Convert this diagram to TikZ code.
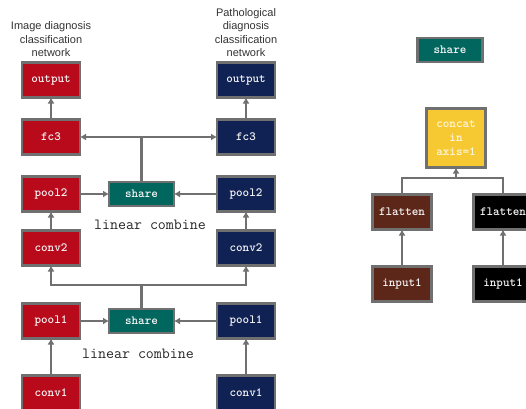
\documentclass[tikz,border=0pt]{standalone}
\usepackage{fontspec}
\setmainfont{Liberation Sans}
\usetikzlibrary{arrows.meta,positioning}
\definecolor{imgred}{RGB}{185,10,28}
\definecolor{pathnavy}{RGB}{16,34,84}
\definecolor{shareteal}{RGB}{0,102,94}
\definecolor{concatyellow}{RGB}{246,200,50}
\definecolor{flatbrown}{RGB}{92,38,24}
\definecolor{edgegray}{RGB}{112,112,112}

\begin{document}
\begin{tikzpicture}[x=1pt, y=-1pt,
    box/.style={draw=edgegray, line width=2.6pt, outer sep=0pt, fill=#1, minimum height=35pt, minimum width=58pt, inner sep=1pt, align=center, font=\ttfamily\bfseries\fontsize{12.5}{14}\selectfont, text=white!92!gray},
    sharebox/.style={box=shareteal, minimum height=24pt, minimum width=65pt},
    line/.style={line width=2.4pt, draw=edgegray},
    arr/.style={line, -{Latex[length=6pt,width=7pt]}},
    dblarr/.style={line, {Latex[length=6pt,width=7pt]}-{Latex[length=6pt,width=7pt]}},
    lab/.style={align=center, font=\fontsize{11}{13.5}\selectfont, text=black!80},
    note/.style={font=\ttfamily\fontsize{15.5}{18}\selectfont, text=black!85}
]
\useasboundingbox (0,0) rectangle (526,408);
\clip (0,0) rectangle (526,408);

% image diagnosis network
\node[box=imgred] (outputL) at (51,80) {output};
\node[box=imgred, below=22pt of outputL] (fc3L) {fc3};
\node[box=imgred, below=22pt of fc3L] (pool2L) {pool2};
\node[box=imgred, below=19pt of pool2L] (conv2L) {conv2};
\node[box=imgred, below=38pt of conv2L] (pool1L) {pool1};
\node[box=imgred, below=37pt of pool1L] (conv1L) {conv1};

% pathological diagnosis network
\node[box=pathnavy, right=137pt of outputL] (outputR) {output};
\node[box=pathnavy, right=137pt of fc3L] (fc3R) {fc3};
\node[box=pathnavy, right=137pt of pool2L] (pool2R) {pool2};
\node[box=pathnavy, right=137pt of conv2L] (conv2R) {conv2};
\node[box=pathnavy, right=137pt of pool1L] (pool1R) {pool1};
\node[box=pathnavy, right=137pt of conv1L] (conv1R) {conv1};

\node[lab, above=2pt of outputL] (imgLabel) {Image diagnosis\\classification\\network};
\node[lab, above=2pt of outputR] (pathLabel) {Pathological\\diagnosis\\classification\\network};

% shared layers
\node[sharebox, right=29pt of pool2L] (shareTop) {share};
\node[sharebox, right=29pt of pool1L] (shareBot) {share};
\node[note] (combineTop) at (150,225) {linear combine};
\node[note] (combineBot) at (138,354) {linear combine};

\draw[arr] (outputL |- fc3L.north) -- (outputL);
\draw[arr] (outputR |- fc3R.north) -- (outputR);
\draw[dblarr] (fc3L) -- (fc3R);
\draw[line] (shareTop.north) -- (shareTop.north |- fc3L.east);
\draw[arr] (pool2L) -- (shareTop);
\draw[arr] (pool2R) -- (shareTop);
\draw[arr] (conv2L) -- (pool2L);
\draw[arr] (conv2R) -- (pool2R);

\coordinate (busL) at (51,285);
\coordinate (busR) at (246,285);
\draw[dblarr] (conv2L) -- (busL) -- (busR) -- (conv2R);
\draw[line] (shareBot.north) -- (shareBot.north |- busL);
\draw[arr] (pool1L) -- (shareBot);
\draw[arr] (pool1R) -- (shareBot);
\draw[arr] (conv1L) -- (pool1L);
\draw[arr] (conv1R) -- (pool1R);

% concat branch
\node[sharebox] (shareKey) at (450,50) {share};
\node[box=concatyellow, minimum width=59pt, minimum height=59pt, text=white!85!concatyellow] (concat) at (456,138) {concat\\in\\axis=1};
\node[box=flatbrown, minimum width=59pt] (flattenA) at (402,212) {flatten};
\node[box=black, minimum width=59pt, right=42pt of flattenA] (flattenB) {flatten};
\node[box=flatbrown, minimum width=59pt, below=37pt of flattenA] (inputA) {input1};
\node[box=black, minimum width=59pt, below=37pt of flattenB] (inputB) {input1};

\coordinate (join) at (456,178);
\draw[line] (flattenA.north) |- (join) -| (flattenB.north);
\draw[arr] (join) -- (concat);
\draw[arr] (inputA) -- (flattenA);
\draw[arr] (inputB) -- (flattenB);
\end{tikzpicture}
\end{document}
